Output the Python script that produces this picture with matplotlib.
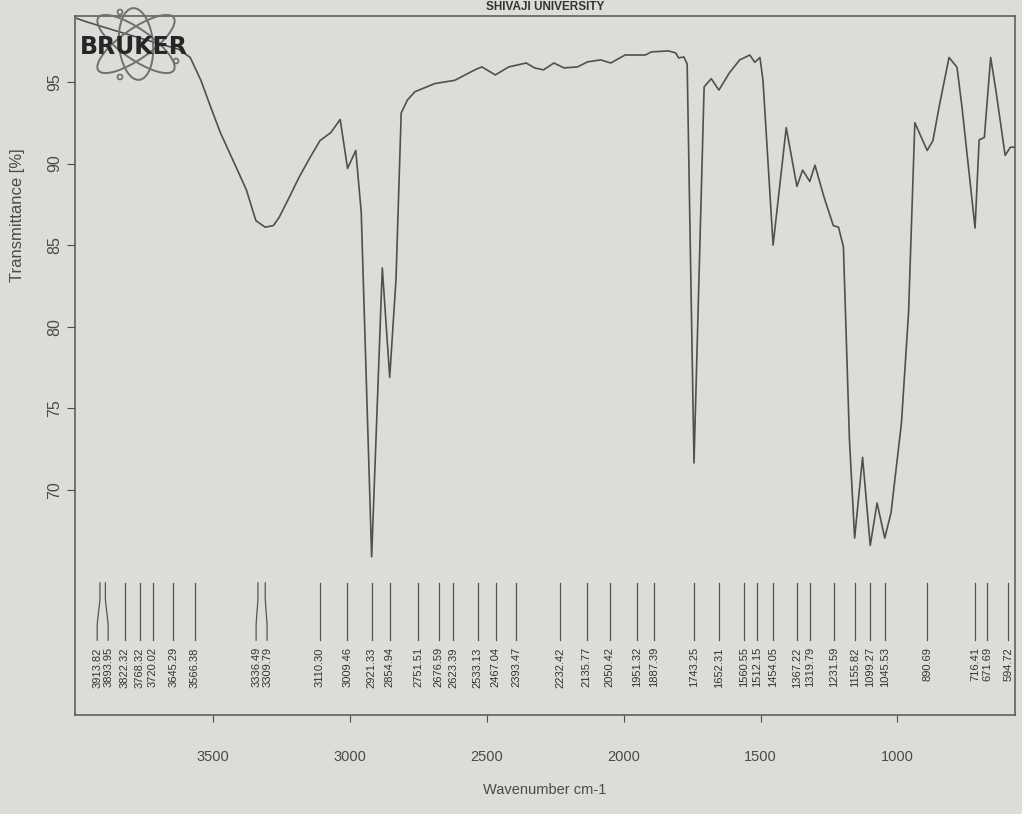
import matplotlib
matplotlib.use("Agg")
import matplotlib.pyplot as plt
from matplotlib.patches import Ellipse, Circle
import numpy as np

# spectrum (wavenumber cm-1, transmittance %)
wavenumber = [4000, 3966, 3869, 3730, 3626, 3584, 3545, 3510, 3474, 3425,
              3379, 3344, 3310, 3280, 3259, 3220, 3185, 3145, 3110, 3070,
              3036, 3009, 2979, 2959, 2921, 2882, 2855, 2832, 2813, 2790,
              2763, 2690, 2617, 2544, 2518, 2469, 2420, 2356, 2326, 2293,
              2255, 2218, 2169, 2132, 2084, 2047, 1995, 1947, 1921, 1899,
              1836, 1810, 1799, 1780, 1768, 1743, 1706, 1680, 1652, 1614,
              1576, 1539, 1521, 1502, 1491, 1454, 1406, 1367, 1346, 1320,
              1301, 1268, 1234, 1215, 1197, 1175, 1156, 1127, 1099, 1074,
              1046, 1023, 985, 959, 936, 891, 870, 847, 811, 782,
              764, 716, 701, 682, 659, 640, 606, 587, 572]
transmittance = [98.9, 98.7, 98.2, 97.5, 97.0, 96.5, 95.1, 93.5, 91.9, 90.1,
                 88.4, 86.5, 86.1, 86.2, 86.7, 88.0, 89.2, 90.4, 91.4, 91.9,
                 92.7, 89.7, 90.8, 87.0, 65.9, 83.6, 76.9, 82.9, 93.1, 93.9,
                 94.4, 94.9, 95.1, 95.74, 95.92, 95.43, 95.92, 96.16, 95.86, 95.74,
                 96.16, 95.86, 95.92, 96.23, 96.35, 96.16, 96.65, 96.65, 96.65, 96.84,
                 96.9, 96.78, 96.47, 96.53, 96.1, 71.65, 94.7, 95.2, 94.5, 95.55,
                 96.35, 96.65, 96.2, 96.5, 95.1, 85.0, 92.2, 88.6, 89.6, 88.9,
                 89.9, 87.95, 86.2, 86.1, 84.9, 73.1, 67.05, 72.0, 66.6, 69.2,
                 67.05, 68.6, 74.1, 80.85, 92.5, 90.8, 91.4, 93.5, 96.5, 95.9,
                 93.5, 86.05, 91.45, 91.6, 96.5, 94.5, 90.5, 91.0, 91.0]

# peak table printed under the spectrum
peak_labels = [3913.82, 3893.95, 3822.32, 3768.32, 3720.02, 3645.29, 3566.38,
               3336.49, 3309.79, 3110.30, 3009.46, 2921.33, 2854.94, 2751.51,
               2676.59, 2623.39, 2533.13, 2467.04, 2393.47, 2232.42, 2135.77,
               2050.42, 1951.32, 1887.39, 1743.25, 1652.31, 1560.55, 1512.15,
               1454.05, 1367.22, 1319.79, 1231.59, 1155.82, 1099.27, 1045.53,
               890.69, 716.41, 671.69, 594.72]

x_ticks = [3500, 3000, 2500, 2000, 1500, 1000]
y_ticks = [70, 75, 80, 85, 90, 95]

bg = '#dcdcd9'
ink = '#4a4a4a'
plt.rcParams['font.family'] = ['Liberation Sans', 'DejaVu Sans']


def spread(values, gap):
    """push label positions apart (values sorted descending)"""
    groups = [[v] for v in values]
    changed = True
    pos = None
    while changed:
        changed = False
        pos = []
        for g in groups:
            c = np.mean(g)
            n = len(g)
            pos.append([c + gap * ((n - 1) / 2 - k) for k in range(n)])
        for i in range(len(groups) - 1):
            if pos[i][-1] - pos[i + 1][0] < gap:
                groups[i] = groups[i] + groups[i + 1]
                del groups[i + 1]
                changed = True
                break
    return [p for g in pos for p in g]


fig = plt.figure(figsize=(10.22, 8.14), dpi=100, facecolor=bg)
ax = fig.add_axes([75 / 1022, 1 - 715 / 814, 940 / 1022, 699 / 814])
ax.set_facecolor(bg)

ax.plot(wavenumber, transmittance, color='#505050', lw=1.2)

ax.set_xlim(4005, 570)
ax.set_ylim(56.21, 99.04)
ax.set_xticks(x_ticks)
ax.set_yticks(y_ticks)
ax.tick_params(axis='x', direction='out', length=5, pad=20, labelsize=10.5,
               colors=ink)
ax.tick_params(axis='y', direction='out', length=6, pad=3, labelsize=11.5,
               colors=ink)
for lab in ax.get_yticklabels():
    lab.set_rotation(90)
    lab.set_va('center')
for s in ax.spines.values():
    s.set_color('#555555')
    s.set_linewidth(1.1)

ax.set_xlabel('Wavenumber cm-1', fontsize=10.5, color=ink, labelpad=14)
fig.text(18 / 1022, 1 - 215 / 814, 'Transmittance [%]', rotation=90,
         ha='center', va='center', fontsize=12, color=ink)

# peak markers with bent leader lines
tr = ax.get_xaxis_transform()
label_pos = spread(peak_labels, 40)
for wn, lp in zip(peak_labels, label_pos):
    ax.plot([wn, wn, lp, lp], [0.189, 0.165, 0.13, 0.107], color='#555555',
            lw=0.9, transform=tr, clip_on=False)
    ax.text(lp, 0.097, f'{wn:.2f}', rotation=90, ha='center', va='top',
            fontsize=8, color='#333333', transform=tr)

# header, partly cut off in the photo
fig.text(545 / 1022, 1 - 1 / 814, 'SHIVAJI UNIVERSITY', ha='center', va='top',
         fontsize=8.5, weight='bold', color='#333333')

# Bruker logo
lax = fig.add_axes([88 / 1022, 1 - 85 / 814, 97 / 1022, 82 / 814])
lax.set_xlim(0, 97)
lax.set_ylim(0, 82)
lax.axis('off')
for ang, w, h in [(35, 92, 30), (-35, 92, 30), (95, 72, 34)]:
    lax.add_patch(Ellipse((48, 41), w, h, angle=ang, fill=False,
                          edgecolor='#6f6f6f', lw=1.4))
for cx, cy in [(32, 73), (32, 8), (88, 24)]:
    lax.add_patch(Circle((cx, cy), 2.5, fill=False, edgecolor='#6f6f6f', lw=1.2))
fig.text(80 / 1022, 1 - 47 / 814, 'BRUKER', ha='left', va='center',
         fontsize=17, weight='bold', color='#262626', family='DejaVu Sans')

fig.savefig('out.png', dpi=100, facecolor=bg)
